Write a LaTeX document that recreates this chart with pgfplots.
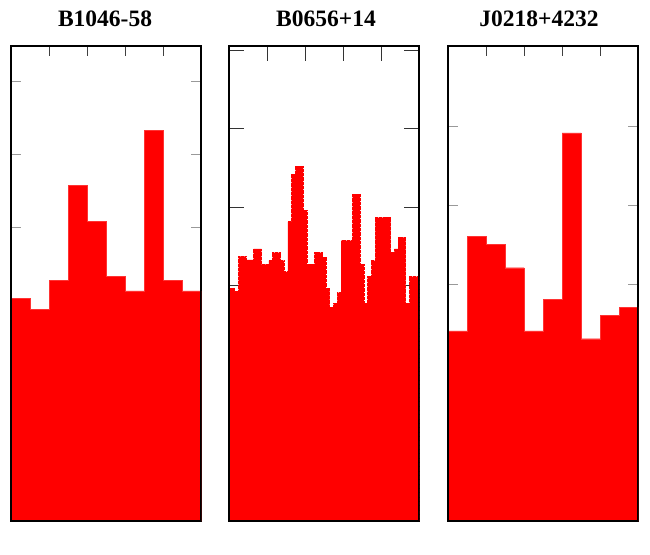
\documentclass[border=0pt]{standalone}
\usepackage{fontspec}
\setmainfont{Liberation Serif}
\usepackage{pgfplots}
\pgfplotsset{compat=1.18}
\pgfplotsset{
  panel/.style={
    scale only axis, width=190pt, height=475pt, anchor=south west,
    axis line style={line width=1.2pt, black},
    tick align=inside,
    xticklabels={}, yticklabels={},
    ymin=0,
    every axis title/.style={at={(0.5,1)}, anchor=base, yshift=19.3pt,
      font=\bfseries\fontsize{23.5}{24}\selectfont},
  }
}
\begin{document}
\begin{tikzpicture}
\useasboundingbox (0,0) rectangle (650pt,-554pt);

% Panel 1
\begin{axis}[panel, at={(11pt,-521pt)}, xmin=0, xmax=10, ymax=6.48,
  xtick={2,4,6,8}, ytick={1,2,3,4,5,6},
  major tick length=10pt,
  xtick style={black!75, line width=0.8pt},
  ytick style={black!40, line width=0.8pt},
  title={B1046-58}, title style={xshift=-1pt}]
\addplot[const plot, fill=red, draw=red!80!white, line width=0.4pt] table {
x y
0 3.04
1 2.89
2 3.28
3 4.58
4 4.09
5 3.34
6 3.14
7 5.33
8 3.28
9 3.14
10 3.14
} \closedcycle;
\draw[line width=1.2pt] (rel axis cs:0,0) rectangle (rel axis cs:1,1);
\end{axis}

% Panel 2
\begin{axis}[panel, at={(229pt,-521pt)}, xmin=0, xmax=50, ymax=6.05,
  xtick={10,20,30,40}, ytick={1,2,3,4,5,6},
  major tick length=15pt,
  xtick style={black!80, line width=0.8pt},
  ytick style={black!80, line width=0.8pt},
  title={B0656+14}, title style={xshift=2pt}]
\addplot[const plot, fill=red, draw=red, line width=0.8pt, dash pattern=on 0.8pt off 0.5pt] table {
x y
0 2.966
1.5 2.92
2.5 3.37
3.5 3.37
4.5 3.325
5.5 3.325
6.5 3.465
7.5 3.465
8.5 3.27
9.5 3.27
10.5 3.316
11.5 3.418
12.5 3.418
13.5 3.316
14.5 3.173
15.5 3.81
16.5 4.418
17.5 4.52
18.5 4.52
19.5 3.96
20.5 3.27
21.5 3.27
22.5 3.418
23.5 3.418
24.5 3.36
25.5 2.966
26.5 2.724
27.5 2.775
28.5 2.91
29.5 3.57
30.5 3.57
31.5 3.57
32.5 4.164
33.5 4.164
34.5 3.262
35.5 2.775
36.5 3.113
37.5 3.316
38.5 3.863
39.5 3.863
40.5 3.863
41.5 3.863
42.5 3.418
43.5 3.465
44.5 3.614
45.5 3.614
46.5 2.775
47.5 3.113
48.5 3.113
50 3.113
} \closedcycle;
\draw[line width=1.2pt] (rel axis cs:0,0) rectangle (rel axis cs:1,1);
\end{axis}

% Panel 3
\begin{axis}[panel, at={(448pt,-521pt)}, xmin=0, xmax=10, ymax=6.02,
  xtick={2,4,6,8}, ytick={1,2,3,4,5},
  major tick length=10pt,
  xtick style={black!75, line width=0.8pt},
  ytick style={black!40, line width=0.8pt},
  title={J0218+4232}, title style={xshift=-4pt}]
\addplot[const plot, fill=red, draw=red!80!white, line width=0.4pt] table {
x y
0 2.41
1 3.61
2 3.51
3 3.21
4 2.41
5 2.81
6 4.92
7 2.31
8 2.61
9 2.71
10 2.71
} \closedcycle;
\draw[line width=1.2pt] (rel axis cs:0,0) rectangle (rel axis cs:1,1);
\end{axis}
\end{tikzpicture}
\end{document}
